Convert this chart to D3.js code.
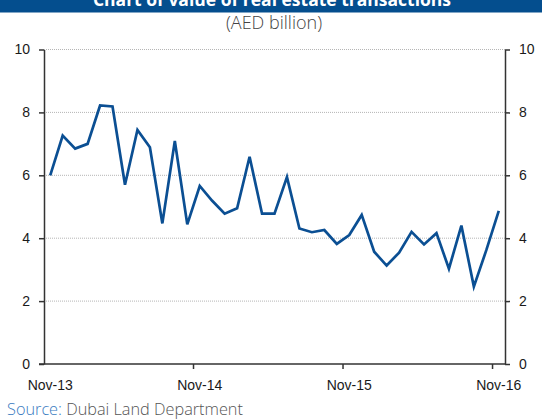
<html>
<head>
<script src="https://cdn.jsdelivr.net/npm/d3@7"></script>
<style>
  body { margin: 0; padding: 0; background: #fff; }
  svg { display: block; }
</style>
</head>
<body>
<div id="chart"></div>
<script>
// monthly values, Nov-13 .. Nov-16 (AED billion)
const months = d3.range(37);
const values = [
  6.00, 7.26, 6.85, 7.00, 8.22, 8.19, 5.70, 7.44, 6.89, 4.47,
  7.09, 4.44, 5.66, 5.19, 4.78, 4.95, 6.59, 4.78, 4.78, 5.94,
  4.31, 4.19, 4.26, 3.82, 4.10, 4.74, 3.57, 3.13, 3.54, 4.20,
  3.80, 4.16, 3.03, 4.40, 2.46, 3.62, 4.87
];
const xTickIdx = [12, 24, 36];
const xLabels = ["Nov-13", "Nov-14", "Nov-15", "Nov-16"];
const xLabelIdx = [0, 12, 24, 36];
const yTicks = [0, 2, 4, 6, 8, 10];

const W = 542, H = 419;
const plotL = 44, plotR = 505, plotT = 49.5, plotB = 364;

const svg = d3.select("#chart").append("svg")
  .attr("width", W).attr("height", H);

// title banner (cut off at top)
svg.append("rect").attr("x", 0).attr("y", 0).attr("width", W).attr("height", 12.5)
  .attr("fill", "#044e8e");
svg.append("text").attr("x", 272).attr("y", 6)
  .attr("text-anchor", "middle")
  .attr("font-family", "'Open Sans', sans-serif").attr("font-weight", "bold")
  .attr("font-size", 17.5).attr("fill", "#fff")
  .text("Chart of value of real estate transactions");

svg.append("text").attr("x", 274).attr("y", 29)
  .attr("text-anchor", "middle")
  .attr("font-family", "'Open Sans', sans-serif").attr("font-weight", 300)
  .attr("font-size", 18).attr("fill", "#444")
  .text("(AED billion)");

const x = d3.scaleBand().domain(months).range([plotL, plotR]).padding(0);
const y = d3.scaleLinear().domain([0, 10]).range([plotB, plotT]);

// gridlines
svg.append("g").selectAll("line").data(yTicks.filter(d => d > 0)).enter()
  .append("line")
  .attr("x1", plotL).attr("x2", plotR)
  .attr("y1", d => y(d)).attr("y2", d => y(d))
  .attr("stroke", "#b5b5b5").attr("stroke-width", 1)
  .attr("stroke-dasharray", "1,1");

const axisFont = g => g.selectAll("text")
  .attr("font-family", "'Liberation Sans', Arial, sans-serif")
  .attr("font-size", 14).attr("fill", "#1a1a1a");

// left axis
const gl = svg.append("g").attr("transform", `translate(${plotL},0)`)
  .call(d3.axisLeft(y).tickValues(yTicks).tickSize(5).tickPadding(9).tickSizeOuter(0));
gl.call(axisFont);
gl.selectAll("line, path").attr("stroke", "#333").attr("stroke-width", 1.5);

// right axis
const gr = svg.append("g").attr("transform", `translate(${plotR},0)`)
  .call(d3.axisRight(y).tickValues(yTicks).tickSize(5).tickPadding(9).tickSizeOuter(0));
gr.call(axisFont);
gr.selectAll("line, path").attr("stroke", "#333").attr("stroke-width", 1.5);

// bottom axis: ticks at category boundaries, labels at category centres
const gb = svg.append("g").attr("transform", `translate(0,${plotB})`);
gb.append("line").attr("x1", plotL - 5).attr("x2", plotR)
  .attr("y1", 0).attr("y2", 0)
  .attr("stroke", "#333").attr("stroke-width", 1.5);
gb.selectAll(".tk").data(xTickIdx).enter().append("line")
  .attr("x1", d => x(d)).attr("x2", d => x(d))
  .attr("y1", 0).attr("y2", 5)
  .attr("stroke", "#333").attr("stroke-width", 1.5);
gb.selectAll(".lb").data(xLabelIdx).enter().append("text")
  .attr("x", d => x(d) + x.bandwidth() / 2).attr("y", 26)
  .attr("text-anchor", "middle")
  .attr("font-family", "'Liberation Sans', Arial, sans-serif")
  .attr("font-size", 14).attr("fill", "#1a1a1a")
  .text((d, i) => xLabels[i]);

// line
const line = d3.line()
  .x((d, i) => x(months[i]) + x.bandwidth() / 2)
  .y(d => y(d));
svg.append("path").datum(values)
  .attr("d", line)
  .attr("fill", "none")
  .attr("stroke", "#0b4f93")
  .attr("stroke-width", 2.7)
  .attr("stroke-linejoin", "miter");

// source
const src = svg.append("text").attr("x", 7).attr("y", 415)
  .attr("font-family", "'Open Sans', sans-serif").attr("font-weight", 300)
  .attr("font-size", 16.3);
src.append("tspan").attr("fill", "#3a7bbf").text("Source: ");
src.append("tspan").attr("fill", "#555").text("Dubai Land Department");
</script>
</body>
</html>
